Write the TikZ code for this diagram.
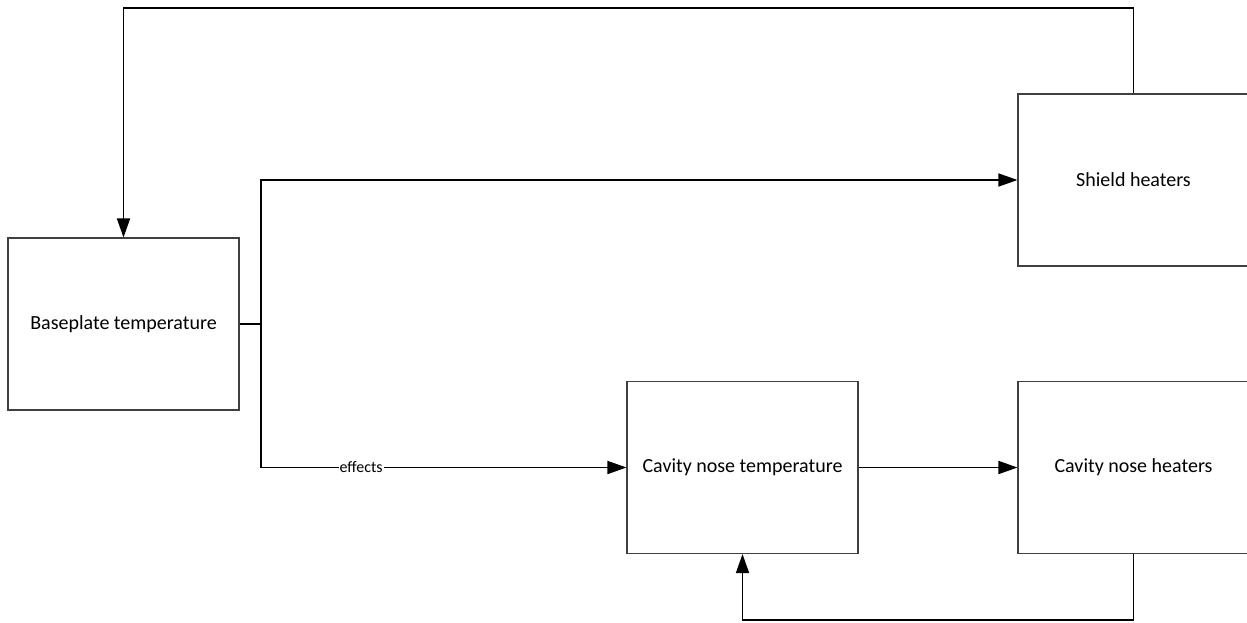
\documentclass[tikz,border=0pt]{standalone}
\usepackage{fontspec}
\setmainfont{Carlito}
\usetikzlibrary{arrows.meta}
\begin{document}
\begin{tikzpicture}[x=1pt,y=-1pt,
  box/.style={draw=black!75, line width=1.1pt, fill=white, minimum width=231pt, minimum height=172pt, inner sep=0pt, font=\fontsize{20}{24}\selectfont},
  conn/.style={line width=1.6pt, black},
  arr/.style={conn, -{Triangle[length=19pt,width=13pt]}}]
\useasboundingbox (0,0) rectangle (1247,622);
\node[box] (base) at (123.5,324) {Baseplate temperature};
\node[box] (shield) at (1133.5,180) {Shield heaters};
\node[box] (cnt) at (742.5,467.5) {Cavity nose temperature};
\node[box] (cnh) at (1133.5,467.5) {Cavity nose heaters};
\coordinate (top) at (0,8);
\coordinate (bot) at (0,620);
\coordinate (j) at (261,324);
\draw[arr] (shield.north) |- (base.north |- top) -- (base.north);
\draw[conn] (base.east) -- (j);
\draw[arr] (j) |- (shield.west);
\draw[arr] (j) |- node[pos=0.637, fill=white, inner sep=1pt, font=\fontsize{16}{18}\selectfont] {effects} (cnt.west);
\draw[arr] (cnt.east) -- (cnh.west);
\draw[arr] (cnh.south) |- (cnt.south |- bot) -- (cnt.south);
\end{tikzpicture}
\end{document}
